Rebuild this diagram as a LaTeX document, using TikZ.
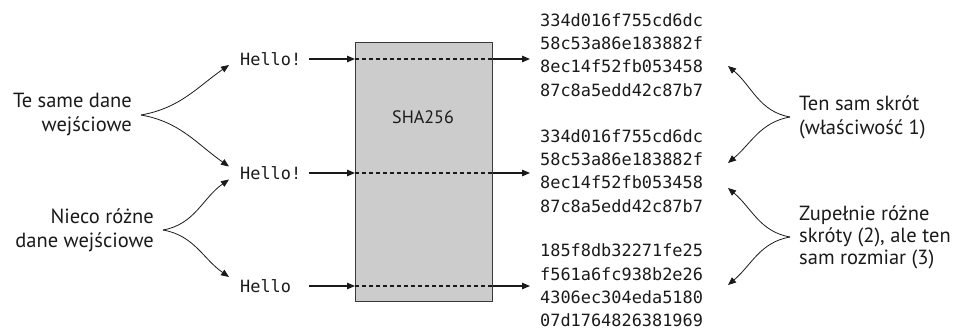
\documentclass[tikz,border=0pt]{standalone}
\usepackage{fontspec}
\setmainfont{PT Sans}
\setmonofont{DejaVu Sans Mono}
\usetikzlibrary{arrows.meta}
\definecolor{boxfill}{HTML}{CCCCCC}
\definecolor{boxline}{HTML}{3A3A3A}
\definecolor{ink}{HTML}{1A1A1A}
\begin{document}
\begin{tikzpicture}[x=1pt,y=1pt,
  lbl/.style={font=\fontsize{20.5}{24}\selectfont, text=ink, inner ysep=0pt, inner xsep=9pt},
  mono/.style={font=\ttfamily\fontsize{16.9}{23.4}\selectfont, text=ink, inner ysep=0pt},
  arr/.style={-{Triangle[length=8pt,width=6.5pt]}, line width=1.2pt, draw=ink},
  carr/.style={-{Triangle[length=8pt,width=6.5pt]}, line width=0.8pt, draw=ink},
  dsh/.style={line width=1.2pt, draw=ink, dash pattern=on 4pt off 3pt},
]
\useasboundingbox (0,0) rectangle (954,331);
% hash function box
\node[draw=boxline, fill=boxfill, line width=1.3pt, inner sep=0pt,
      minimum width=137pt, minimum height=259pt, anchor=south west] (box) at (355,29) {};
\node[font=\fontsize{18}{22}\selectfont, text=ink] (sha) at (423,214) {SHA256};
% inputs
\node[mono, anchor=west, inner xsep=11pt, text width=58pt, align=left] (in1) at (229,272) {Hello!};
\node[mono, anchor=west, inner xsep=11pt, text width=58pt, align=left] (in2) at (229,158) {Hello!};
\node[mono, anchor=west, inner xsep=11pt, text width=58pt, align=left] (in3) at (229,45) {Hello};
% outputs
\node[mono, anchor=west, inner xsep=10pt, align=left] (h1) at (530,276)
  {334d016f755cd6dc\\58c53a86e183882f\\8ec14f52fb053458\\87c8a5edd42c87b7};
\node[mono, anchor=west, inner xsep=10pt, align=left] (h2) at (530,160)
  {334d016f755cd6dc\\58c53a86e183882f\\8ec14f52fb053458\\87c8a5edd42c87b7};
\node[mono, anchor=west, inner xsep=10pt, align=left] (h3) at (530,45.5)
  {185f8db32271fe25\\f561a6fc938b2e26\\4306ec304eda5180\\07d1764826381969};
% straight arrows through the box
\foreach \i in {1,2,3}{
  \draw[arr] (in\i.east) -- (box.west |- in\i.east);
  \draw[dsh] (box.west |- in\i.east) -- (box.east |- in\i.east);
  \draw[arr] (box.east |- in\i.east) -- (h\i.west |- in\i.east);
}
% labels
\node[lbl, anchor=east, align=right] (t1) at (141,216) {Te same dane\\wejściowe};
\node[lbl, anchor=east, align=right] (t2) at (163,101) {Nieco różne\\dane wejściowe};
\node[lbl, anchor=west, align=left] (t3) at (790,214) {Ten sam skrót\\(właściwość 1)};
\node[lbl, anchor=west, align=left, font=\fontsize{20.5}{22}\selectfont] (t4) at (790,94) {Zupełnie różne\\skróty (2), ale ten\\sam rozmiar (3)};
% left curved arrows
\draw[carr] (t1.east) to[out=10,in=215] ([yshift=-6pt]in1.west);
\draw[carr] (t1.east) to[out=-10,in=145] ([yshift=6.5pt]in2.west);
\draw[carr] (t2.east) to[out=10,in=215] ([yshift=-6.5pt]in2.west);
\draw[carr] (t2.east) to[out=-10,in=145] ([yshift=9pt]in3.west);
% right curved arrows
\coordinate (c1) at (728,265);
\coordinate (c2) at (728,168);
\coordinate (c3) at (728,143);
\coordinate (c4) at (728,46);
\draw[carr] (t3.west) to[out=170,in=-40] (c1);
\draw[carr] (t3.west) to[out=190,in=40] (c2);
\draw[carr] (t4.west) to[out=170,in=-40] (c3);
\draw[carr] (t4.west) to[out=190,in=40] (c4);
\end{tikzpicture}
\end{document}
